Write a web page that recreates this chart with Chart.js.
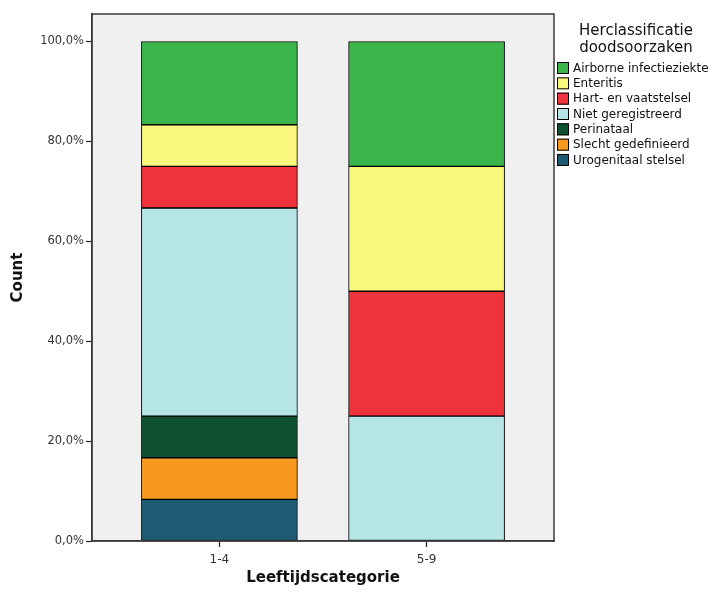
<!DOCTYPE html>
<html>
<head>
<meta charset="utf-8">
<script src="https://cdn.jsdelivr.net/npm/chart.js@4/dist/chart.umd.min.js"></script>
<style>
  html, body { margin: 0; padding: 0; background: #fff; }
  #wrap { width: 715px; height: 595px; }
</style>
</head>
<body>
<div id="wrap"><canvas id="grafico" width="715" height="595"></canvas></div>
<script>
// leeftijdscategorieen op de x-as
var categorieen = ['1-4', '5-9'];
// doodsoorzaken, in volgorde van de legenda
var oorzaken = ['Airborne infectieziekte', 'Enteritis', 'Hart- en vaatstelsel', 'Niet geregistreerd',
                'Perinataal', 'Slecht gedefinieerd', 'Urogenitaal stelsel'];
var kleuren = ['#3bb54a', '#f9f77c', '#ef333d', '#b6e5e6', '#10512f', '#f7991e', '#1d5b74'];
// percentages per oorzaak, per categorie
var perc14 = [16.67, 8.33, 8.33, 41.67, 8.33, 8.33, 8.33];
var perc59 = [25, 25, 25, 25, 0, 0, 0];
// y-as labels
var yTicks = [0, 20, 40, 60, 80, 100];

// onderste segment is de laatste oorzaak, dus omgekeerd opbouwen
var datasets = [];
for (var i = oorzaken.length - 1; i >= 0; i--) {
    datasets.push({
        label: oorzaken[i],
        data: [
            { x: 1, y: perc14[i] || null },
            { x: 2, y: perc59[i] || null }
        ],
        backgroundColor: kleuren[i],
        borderColor: '#000',
        borderWidth: 1,
        borderSkipped: false,
        grouped: false,
        barThickness: 156
    });
}

// grijs plotvlak + kader
var kader = {
    id: 'kader',
    beforeDraw: function(chart) {
        var a = chart.chartArea, ctx = chart.ctx;
        ctx.save();
        ctx.fillStyle = '#f0f0f0';
        ctx.fillRect(a.left, a.top, a.right - a.left, a.bottom - a.top);
        ctx.restore();
    },
    afterDatasetsDraw: function(chart) {
        var a = chart.chartArea, ctx = chart.ctx;
        ctx.save();
        ctx.strokeStyle = '#3a3a3a';
        ctx.lineWidth = 1.5;
        ctx.strokeRect(a.left, a.top, a.right - a.left, a.bottom - a.top);
        ctx.restore();
    }
};

// legenda rechts naast de grafiek
var legenda = {
    id: 'legenda',
    afterDraw: function(chart) {
        var ctx = chart.ctx;
        ctx.save();
        ctx.fillStyle = '#111';
        ctx.textAlign = 'center';
        ctx.textBaseline = 'middle';
        ctx.font = '15px "DejaVu Sans"';
        ctx.fillText('Herclassificatie', 636, 31);
        ctx.fillText('doodsoorzaken', 636, 48);
        ctx.textAlign = 'left';
        ctx.font = '12px "DejaVu Sans"';
        for (var k = 0; k < oorzaken.length; k++) {
            var y = 68 + k * 15.33;
            ctx.fillStyle = kleuren[k];
            ctx.fillRect(557, y - 6, 12, 12);
            ctx.strokeStyle = '#000';
            ctx.lineWidth = 1;
            ctx.strokeRect(557.5, y - 5.5, 11, 11);
            ctx.fillStyle = '#111';
            ctx.fillText(oorzaken[k], 573, y + 0.5);
        }
        ctx.restore();
    }
};

var config = {
    type: 'bar',
    data: { datasets: datasets },
    options: {
        responsive: false,
        animation: false,
        layout: { padding: { top: 14, right: 161, left: 0, bottom: 0 } },
        plugins: {
            legend: { display: false },
            tooltip: { enabled: false }
        },
        scales: {
            x: {
                type: 'linear',
                offset: false,
                min: 0.385,
                max: 2.615,
                afterBuildTicks: function(scale) {
                    scale.ticks = categorieen.map(function(c, j) { return { value: j + 1 }; });
                },
                afterFit: function(scale) { scale.height = 54; },
                grid: { offset: false, drawOnChartArea: false, tickLength: 6, tickColor: '#222', tickWidth: 1.2 },
                border: { display: true, color: '#3a3a3a', width: 1.5 },
                ticks: {
                    padding: 6,
                    color: '#333',
                    font: { family: 'DejaVu Sans', size: 12 },
                    callback: function(v) { return categorieen[Math.round(v) - 1]; }
                },
                title: {
                    display: true,
                    text: 'Leeftijdscategorie',
                    color: '#111',
                    font: { family: 'DejaVu Sans', size: 15, weight: 'bold' },
                    padding: { top: 0, bottom: 8 }
                }
            },
            y: {
                stacked: true,
                min: 0,
                max: 105.5,
                afterBuildTicks: function(scale) {
                    scale.ticks = yTicks.map(function(v) { return { value: v }; });
                },
                afterFit: function(scale) { scale.width = 92; },
                grid: { drawOnChartArea: false, tickLength: 6, tickColor: '#222', tickWidth: 1.2 },
                border: { display: true, color: '#3a3a3a', width: 1.5 },
                ticks: {
                    padding: 2,
                    color: '#333',
                    font: { family: 'DejaVu Sans', size: 11.5 },
                    callback: function(v) { return v.toFixed(1).replace('.', ',') + '%'; }
                },
                title: {
                    display: true,
                    text: 'Count',
                    color: '#111',
                    font: { family: 'DejaVu Sans', size: 15, weight: 'bold' },
                    padding: { top: 9, bottom: 0 }
                }
            }
        }
    },
    plugins: [kader, legenda]
};

var myChart = new Chart(document.getElementById('grafico'), config);
</script>
</body>
</html>
